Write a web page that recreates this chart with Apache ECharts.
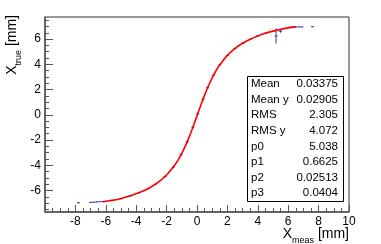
<!DOCTYPE html>
<html>
<head>
<meta charset="utf-8">
<script src="https://cdn.jsdelivr.net/npm/echarts@6/dist/echarts.min.js"></script>
<style>html,body{margin:0;padding:0;background:#fff}#c{width:381px;height:244px}</style>
</head>
<body>
<div id="c"></div>
<script>
// ---- data ----
const fitX = [-6.2,-6,-5.5,-5,-4.5,-4,-3.5,-3,-2.5,-2,-1.5,-1.25,-1,-0.75,-0.5,-0.25,0,0.25,0.5,0.75,1,1.25,1.5,2,2.5,3,3.5,4,4.5,5,5.5,6,6.5];
const fitY = [-6.90,-6.85,-6.76,-6.63,-6.46,-6.26,-6.02,-5.70,-5.30,-4.77,-4.04,-3.59,-3.05,-2.42,-1.71,-0.92,-0.08,0.76,1.56,2.28,2.93,3.49,3.96,4.71,5.26,5.67,5.99,6.25,6.46,6.63,6.77,6.89,6.97];

const dataX = [-7.8,-7.0,-6.8,-6.6,-6.4,-6.2,-5.6,-5.0,-4.4,-3.8,-3.2,-2.7,-2.1,-1.55,-1.05,-0.65,-0.27,0.05,0.4,0.7,1.1,1.5,2.0,2.5,3.0,3.5,4.0,4.5,5.2,5.5,6.1,6.3,6.5,6.7,6.9,7.6];
const dataY = [-6.97,-6.94,-6.92,-6.90,-6.88,-6.87,-6.80,-6.65,-6.43,-6.17,-5.84,-5.47,-4.89,-4.13,-3.16,-2.14,-0.98,0.08,1.24,2.15,3.16,3.96,4.71,5.26,5.67,5.99,6.25,6.46,6.25,6.62,6.93,6.95,6.96,6.97,6.96,6.98];
const dataErr = [0.03,0.03,0.03,0.03,0.03,0.03,0.04,0.04,0.04,0.05,0.05,0.06,0.08,0.1,0.1,0.1,0.1,0.1,0.1,0.1,0.08,0.06,0.05,0.05,0.05,0.05,0.05,0.06,0.6,0.12,0.04,0.03,0.03,0.03,0.03,0.03];
const binHalf = 0.1;

const xTickLabels = [-8,-6,-4,-2,0,2,4,6,8,10];
const yTickLabels = [-6,-4,-2,0,2,4,6];
const yMinorTicks = [];
for (let v = -7.5; v <= 7.5001; v += 0.5) yMinorTicks.push(+v.toFixed(1));

const statNames = ['Mean','Mean y','RMS','RMS y','p0','p1','p2','p3'];
const statValues = ['0.03375','0.02905','2.305','4.072','5.038','0.6625','0.02513','0.0404'];

// ---- chart ----
const FONT = '"Liberation Sans", Arial, Helvetica, sans-serif';
const axisCol = '#555';
const chart = echarts.init(document.getElementById('c'), null, {renderer:'canvas'});

const pts = dataX.map((x,i)=>[x, dataY[i], dataErr[i]]);
const fit = fitX.map((x,i)=>[x, fitY[i]]);

const statGraphics = [{
  type:'rect', left:247, top:76, shape:{width:96, height:125},
  style:{fill:'#fff', stroke:'#000', lineWidth:1}, z:100
}];
statNames.forEach((n,i)=>{
  const y = 84 + 15.6*i;
  statGraphics.push({type:'text', x:251, y:y, z:101,
    style:{text:n, font:'11.5px '+FONT, fill:'#000', textAlign:'left', textVerticalAlign:'middle'}});
  statGraphics.push({type:'text', x:338, y:y, z:101,
    style:{text:statValues[i], font:'11.5px '+FONT, fill:'#000', textAlign:'right', textVerticalAlign:'middle'}});
});

const option = {
  animation:false,
  backgroundColor:'#fff',
  grid:{left:45, right:32, top:17, bottom:32, show:true, borderColor:'#333', borderWidth:1, backgroundColor:'transparent'},
  xAxis:{
    type:'value', min:-10, max:10, interval:2,
    axisLine:{show:true, onZero:false, lineStyle:{color:axisCol, width:1.5}},
    axisTick:{show:true, inside:true, length:7, lineStyle:{color:axisCol}},
    minorTick:{show:true, splitNumber:4, length:4, lineStyle:{color:axisCol}},
    axisLabel:{customValues:xTickLabels, margin:4, color:'#000', fontSize:12, fontFamily:FONT},
    splitLine:{show:false}, minorSplitLine:{show:false}
  },
  yAxis:[{
    type:'value', min:-7.7, max:7.75, position:'left',
    axisLine:{show:true, onZero:false, lineStyle:{color:axisCol, width:1.5}},
    axisTick:{show:true, inside:true, length:8, customValues:yTickLabels, lineStyle:{color:axisCol}},
    axisLabel:{customValues:yTickLabels, margin:4, color:'#000', fontSize:12, fontFamily:FONT},
    splitLine:{show:false}
  },{
    type:'value', min:-7.7, max:7.75, position:'left', offset:0,
    axisLine:{show:false, onZero:false},
    axisTick:{show:true, inside:true, length:4, customValues:yMinorTicks, lineStyle:{color:axisCol}},
    axisLabel:{show:false},
    splitLine:{show:false}
  }],
  series:[{
    type:'custom', yAxisIndex:0, z:2,
    data:pts,
    renderItem:function(params, api){
      const x = api.value(0), y = api.value(1), e = api.value(2);
      const c = api.coord([x,y]);
      const l = api.coord([x-binHalf,y]);
      const r = api.coord([x+binHalf,y]);
      const t = api.coord([x,y+e]);
      const b = api.coord([x,y-e]);
      const st = {stroke:'#3b3ba0', lineWidth:1};
      return {type:'group', children:[
        {type:'line', shape:{x1:l[0],y1:c[1],x2:r[0],y2:c[1]}, style:st},
        {type:'line', shape:{x1:c[0],y1:t[1],x2:c[0],y2:b[1]}, style:st}
      ]};
    }
  },{
    type:'line', yAxisIndex:0, data:fit, smooth:0.3, symbol:'none', z:3,
    lineStyle:{color:'#ff0000', width:1.6}
  }],
  graphic:[
    {type:'text', x:12, y:15, rotation:Math.PI/2, z:50,
      style:{text:'{a|X}{s|true}{a| [mm]}', align:'right', verticalAlign:'middle', textAlign:'right', textVerticalAlign:'middle',
        rich:{a:{fontSize:14, fontFamily:FONT, fill:'#000', color:'#000'}, s:{fontSize:9, fontFamily:FONT, color:'#000', fill:'#000', verticalAlign:'bottom', padding:[0,0,-4,0]}}}},
    {type:'text', x:349, y:234, z:50,
      style:{text:'{a|X}{s|meas}{a| [mm]}', align:'right', verticalAlign:'middle', textAlign:'right', textVerticalAlign:'middle',
        rich:{a:{fontSize:14, fontFamily:FONT, fill:'#000', color:'#000'}, s:{fontSize:9, fontFamily:FONT, color:'#000', fill:'#000', verticalAlign:'bottom', padding:[0,0,-4,0]}}}}
  ].concat(statGraphics)
};
chart.setOption(option);
</script>
</body>
</html>
